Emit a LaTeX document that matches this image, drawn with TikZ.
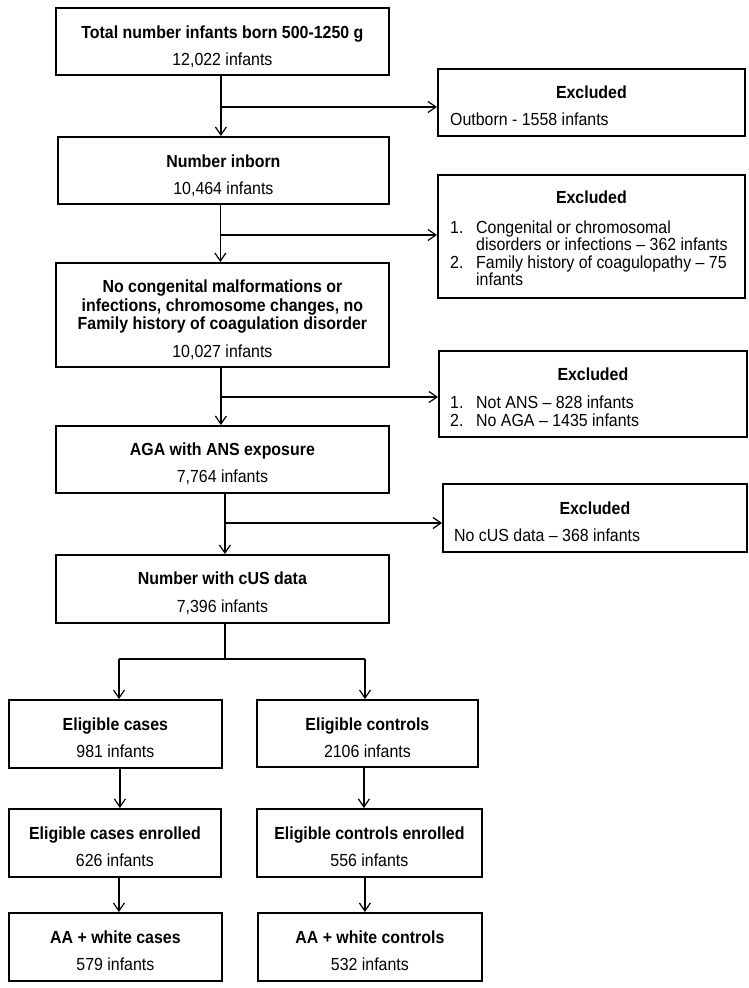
\documentclass[tikz,border=0pt]{standalone}
\usepackage{fontspec}
\setmainfont{Liberation Sans}[FakeStretch=0.91]
\usetikzlibrary{arrows.meta,calc}
\begin{document}
\begin{tikzpicture}[x=1pt,y=-1pt,
 box/.style={draw, line width=1.8pt, inner sep=0pt, anchor=north west},
 ttl/.style={anchor=base, font=\fontsize{17.5}{18}\selectfont\bfseries, inner sep=0pt},
 num/.style={anchor=base, font=\fontsize{17.5}{18}\selectfont, inner sep=0pt},
 lft/.style={anchor=base west, font=\fontsize{17.5}{18}\selectfont, inner sep=0pt},
 arr/.style={line width=1.2pt, -{Straight Barb[length=8pt,width=11pt]}},
 ln/.style={line width=1.2pt}]
\useasboundingbox (0,0) rectangle (749,988);

% main column boxes
\node[box, minimum width=333pt, minimum height=67pt] (b1) at (55,7) {};
\node[box, minimum width=331pt, minimum height=67pt] (b2) at (57,136) {};
\node[box, minimum width=333pt, minimum height=104pt] (b3) at (55,262) {};
\node[box, minimum width=333pt, minimum height=67pt] (b4) at (55,425) {};
\node[box, minimum width=333pt, minimum height=68pt] (b5) at (55,554) {};
% excluded boxes
\node[box, minimum width=307pt, minimum height=67pt] (e1) at (437,68) {};
\node[box, minimum width=307pt, minimum height=123pt] (e2) at (437,174) {};
\node[box, minimum width=308pt, minimum height=86pt] (e3) at (438,350) {};
\node[box, minimum width=304pt, minimum height=68pt] (e4) at (442,483) {};
% bottom boxes
\node[box, minimum width=213pt, minimum height=68pt] (b6) at (8,699) {};
\node[box, minimum width=221pt, minimum height=67pt] (b7) at (256,699) {};
\node[box, minimum width=212pt, minimum height=68pt] (b8) at (8,808) {};
\node[box, minimum width=225pt, minimum height=68pt] (b9) at (256,808) {};
\node[box, minimum width=213pt, minimum height=68pt] (b10) at (8,912) {};
\node[box, minimum width=224pt, minimum height=68pt] (b11) at (257,912) {};

% texts
\node[ttl] (t1) at (b1.north |- 0,38) {Total number infants born 500-1250 g};
\node[num] (n1) at (b1.north |- 0,65) {12,022 infants};
\node[ttl] (te1) at (e1.north |- 0,98) {Excluded};
\node[lft] (le1) at (450,125) {Outborn - 1558 infants};

\node[ttl] (t2) at (b2.north |- 0,167) {Number inborn};
\node[num] (n2) at (b2.north |- 0,194) {10,464 infants};
\node[ttl] (te2) at (e2.north |- 0,203) {Excluded};
\node[lft] (e2a) at (450,233) {1.};
\node[lft] (e2b) at (476,233) {Congenital or chromosomal};
\node[lft] (e2c) at (476,250) {disorders or infections – 362 infants};
\node[lft] (e2d) at (450,268) {2.};
\node[lft] (e2e) at (476,268) {Family history of coagulopathy – 75};
\node[lft] (e2f) at (476,285) {infants};

\node[ttl] (t3a) at (b3.north |- 0,292) {No congenital malformations or};
\node[ttl] (t3b) at (b3.north |- 0,311) {infections, chromosome changes, no};
\node[ttl] (t3c) at (b3.north |- 0,329) {Family history of coagulation disorder};
\node[num] (n3) at (b3.north |- 0,357) {10,027 infants};
\node[ttl] (te3) at (e3.north |- 0,380) {Excluded};
\node[lft] (e3a) at (450,408) {1.};
\node[lft] (e3b) at (476,408) {Not ANS – 828 infants};
\node[lft] (e3c) at (450,426) {2.};
\node[lft] (e3d) at (476,426) {No AGA – 1435 infants};

\node[ttl] (t4) at (b4.north |- 0,455) {AGA with ANS exposure};
\node[num] (n4) at (b4.north |- 0,482) {7,764 infants};
\node[ttl] (te4) at (e4.north |- 0,514) {Excluded};
\node[lft] (le4) at (454,541) {No cUS data – 368 infants};

\node[ttl] (t5) at (b5.north |- 0,584) {Number with cUS data};
\node[num] (n5) at (b5.north |- 0,612) {7,396 infants};

\node[ttl] (t6) at (b6.north |- 0,730) {Eligible cases};
\node[num] (n6) at (b6.north |- 0,757) {981 infants};
\node[ttl] (t7) at (b7.north |- 0,730) {Eligible controls};
\node[num] (n7) at (b7.north |- 0,757) {2106 infants};
\node[ttl] (t8) at (b8.north |- 0,839) {Eligible cases enrolled};
\node[num] (n8) at (b8.north |- 0,866) {626 infants};
\node[ttl] (t9) at (b9.north |- 0,839) {Eligible controls enrolled};
\node[num] (n9) at (b9.north |- 0,866) {556 infants};
\node[ttl] (t10) at (b10.north |- 0,943) {AA + white cases};
\node[num] (n10) at (b10.north |- 0,970) {579 infants};
\node[ttl] (t11) at (b11.north |- 0,943) {AA + white controls};
\node[num] (n11) at (b11.north |- 0,970) {532 infants};

% connectors main column
\coordinate (v1) at ([xshift=-1.5pt]b1.south);
\draw[arr] (v1) -- (v1 |- b2.north);
\coordinate (j1) at (v1 |- 0,107);
\draw[arr] (j1) -- (j1 -| e1.west);

\coordinate (v2) at ([xshift=-3pt]b2.south);
\draw[arr] (v2) -- (v2 |- b3.north);
\coordinate (j2) at (v2 |- 0,235);
\draw[arr] (j2) -- (j2 -| e2.west);

\coordinate (v3) at ([xshift=-1.5pt]b3.south);
\draw[arr] (v3) -- (v3 |- b4.north);
\coordinate (j3) at (v3 |- 0,397);
\draw[arr] (j3) -- (j3 -| e3.west);

\coordinate (v4) at ([xshift=2.5pt]b4.south);
\draw[arr] (v4) -- (v4 |- b5.north);
\coordinate (j4) at (v4 |- 0,523);
\draw[arr] (j4) -- (j4 -| e4.west);

% branch
\coordinate (v5) at ([xshift=2.5pt]b5.south);
\coordinate (br) at (v5 |- 0,659);
\coordinate (bl) at (119,659);
\coordinate (brr) at (365,659);
\draw[ln] (v5) -- (br);
\draw[ln] (bl) -- (brr);
\draw[arr] (bl) -- (bl |- b6.north);
\draw[arr] (brr) -- (brr |- b7.north);

% lower columns
\coordinate (c1) at ([xshift=4.5pt]b6.south);
\draw[arr] (c1) -- (c1 |- b8.north);
\coordinate (c2) at ([xshift=4pt]b8.south);
\draw[arr] (c2) -- (c2 |- b10.north);
\coordinate (d1) at ([xshift=-3.5pt]b7.south);
\draw[arr] (d1) -- (d1 |- b9.north);
\coordinate (d2) at ([xshift=-4.5pt]b9.south);
\draw[arr] (d2) -- (d2 |- b11.north);
\end{tikzpicture}
\end{document}
